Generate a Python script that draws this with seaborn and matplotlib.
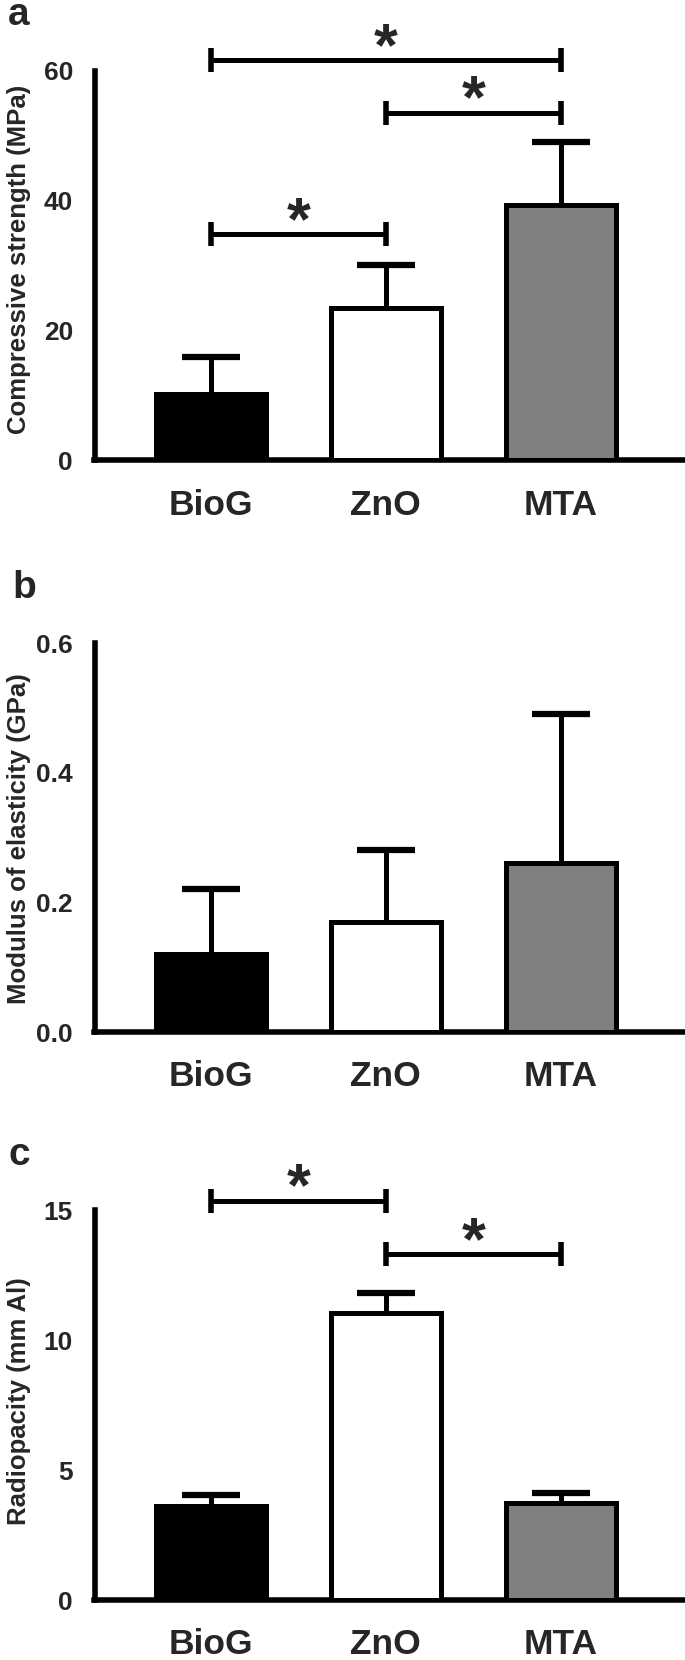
import matplotlib
matplotlib.use("Agg")
import matplotlib.pyplot as plt
import seaborn as sns
import pandas as pd
import numpy as np

# ---------------- data ----------------
groups = ["BioG", "ZnO", "MTA"]
bar_colors = ["#000000", "#ffffff", "#808080"]

comp_mean = [10.2, 23.5, 39.4]     # Compressive strength (MPa)
comp_sd = [5.8, 6.6, 9.6]
mod_mean = [0.12, 0.17, 0.26]      # Modulus of elasticity (GPa)
mod_sd = [0.10, 0.11, 0.23]
rad_mean = [3.6, 11.05, 3.75]      # Radiopacity (mm Al)
rad_sd = [0.45, 0.75, 0.35]

comp_pairs = [(0, 2), (1, 2), (0, 1)]
comp_pair_y = [61.7, 53.6, 34.9]
rad_pairs = [(0, 1), (1, 2)]
rad_pair_y = [15.36, 13.3]

comp_ticks = [0, 20, 40, 60]
mod_ticks = [0.0, 0.2, 0.4, 0.6]
mod_ticklabels = ["0.0", "0.2", "0.4", "0.6"]
rad_ticks = [0, 5, 10, 15]

# ---------------- style ----------------
sns.set_style("white")
plt.rcParams["font.family"] = ["Liberation Sans", "DejaVu Sans"]
plt.rcParams["font.weight"] = "bold"
plt.rcParams["axes.labelweight"] = "bold"

W, H = 685, 1660
fig = plt.figure(figsize=(W / 100, H / 100), dpi=100)

LW = 4.0


def fx(px):
    return px / W


def fy(py):
    return 1 - py / H


def panel(top_px, bottom_px, means, sds, ticks, ticklabels, ylabel,
          label_y_center, letter, letter_xy, pairs=None, pair_y=None,
          cap_px=12):
    left_px = 94.5
    ax = fig.add_axes([fx(left_px), fy(bottom_px), 1 - fx(left_px),
                       (bottom_px - top_px) / H])
    df = pd.DataFrame({"group": groups, "value": means})
    sns.barplot(data=df, x="group", y="value", hue="group",
                palette=bar_colors, legend=False, width=0.63,
                edgecolor="black", linewidth=3.6, ax=ax, zorder=3)
    eb = ax.errorbar(range(len(groups)), means,
                     yerr=[[0] * len(sds), sds],
                     fmt="none", ecolor="black", elinewidth=3.6, capsize=21,
                     capthick=4.5, zorder=2)
    # hide the (zero-length) lower caps sitting on the bar tops
    for cl in eb[1]:
        yd = np.asarray(cl.get_ydata(), dtype=float)
        if np.allclose(yd, np.asarray(means, dtype=float)):
            cl.set_visible(False)
    ax.set_xlim(-0.666, 2.711)
    ax.set_ylim(ticks[0], ticks[-1])
    ax.set_yticks(ticks)
    ax.set_yticklabels(ticklabels)
    ax.set_xlabel("")
    ax.set_ylabel("")
    for s in ["top", "right"]:
        ax.spines[s].set_visible(False)
    for s in ["left", "bottom"]:
        ax.spines[s].set_linewidth(LW)
        ax.spines[s].set_color("black")
    ax.tick_params(axis="y", direction="out", length=12, width=LW,
                   labelsize=19, pad=3.5, color="black")
    ax.tick_params(axis="x", direction="out", length=12, width=LW,
                   labelsize=25.5, pad=8.5, color="black")
    for t in ax.get_xticklabels() + ax.get_yticklabels():
        t.set_fontweight("bold")
    ax.grid(False)

    # significance brackets
    if pairs:
        (y0_px, y1_px) = ax.transData.transform([(0, 0), (0, 1)])[:, 1]
        per_unit = (y1_px - y0_px)
        cap = cap_px / per_unit
        for (a, b), yy in zip(pairs, pair_y):
            ax.plot([a, b], [yy, yy], color="black", lw=3.6,
                    solid_capstyle="butt", clip_on=False, zorder=4)
            for xx in (a, b):
                ax.plot([xx, xx], [yy - cap, yy + cap], color="black",
                        lw=4.0, solid_capstyle="butt", clip_on=False,
                        zorder=4)
            ax.annotate("*", xy=((a + b) / 2, yy), xytext=(0, -3.5),
                        textcoords="offset points", ha="center",
                        va="baseline", fontsize=44, fontweight="bold",
                        annotation_clip=False)

    fig.text(fx(19.5), fy(label_y_center), ylabel, rotation=90,
             ha="center", va="center", fontsize=18.5, fontweight="bold")
    fig.text(fx(letter_xy[0]), fy(letter_xy[1]), letter, ha="left",
             va="baseline", fontsize=28, fontweight="bold")
    return ax


panel(71, 460.5, comp_mean, comp_sd, comp_ticks,
      [str(t) for t in comp_ticks], "Compressive strength (MPa)",
      259, "a", (8, 25), comp_pairs, comp_pair_y)
panel(643, 1032, mod_mean, mod_sd, mod_ticks, mod_ticklabels,
      "Modulus of elasticity (GPa)", 838.5, "b", (12, 598))
panel(1210, 1600, rad_mean, rad_sd, rad_ticks,
      [str(t) for t in rad_ticks], "Radiopacity (mm Al)",
      1401, "c", (9, 1165), rad_pairs, rad_pair_y)

fig.savefig("out.png", dpi=100)
